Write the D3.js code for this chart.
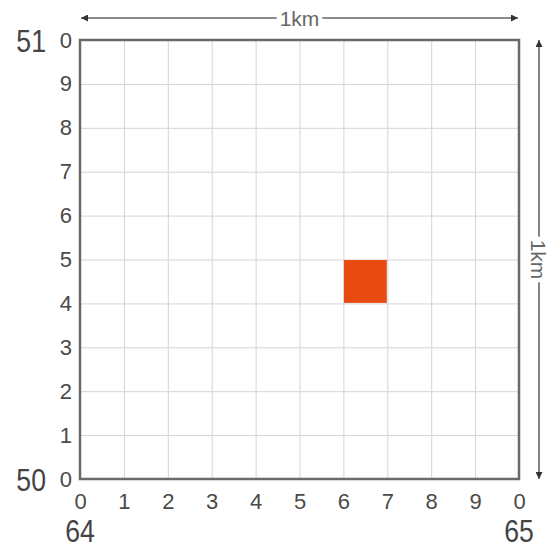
<!DOCTYPE html>
<html lang="en">
<head>
    <meta charset="UTF-8">
    <title>1km grid square</title>
    <script src="https://d3js.org/d3.v7.min.js"></script>
    <style>
        body {
            margin: 0;
            background: #fff;
            font-family: "Liberation Sans", Arial, sans-serif;
        }

        .grid line {
            stroke: #d4d4d4;
            stroke-width: 1px;
        }

        .grid .domain {
            display: none;
        }

        .ticks text {
            fill: #4a4a4a;
            font-size: 22px;
        }

        .ticks .domain, .ticks line {
            display: none;
        }
    </style>
</head>
<body>
<svg id="chart" width="549" height="552"></svg>

<script>
    // tenths of the square, left->right and bottom->top
    const tickValues = [0, 1, 2, 3, 4, 5, 6, 7, 8, 9, 10];
    const tickLabels = ["0", "1", "2", "3", "4", "5", "6", "7", "8", "9", "0"];
    // grid references of the corners
    const eastings = ["64", "65"];
    const northings = ["50", "51"];
    // highlighted square (col, row in tenths)
    const markCols = [6];
    const markRows = [4];
    const sideLabel = "1km";

    const svg = d3.select("#chart");
    const plotLeft = 80, plotRight = 519, plotTop = 40, plotBottom = 479;

    const x = d3.scaleLinear().domain([0, 10]).range([plotLeft, plotRight]);
    const y = d3.scaleLinear().domain([0, 10]).range([plotBottom, plotTop]);

    // grid lines
    svg.append("g").attr("class", "grid")
        .attr("transform", `translate(0,${plotBottom})`)
        .call(d3.axisBottom(x).tickValues(tickValues).tickSize(-(plotBottom - plotTop)).tickFormat(""));
    svg.append("g").attr("class", "grid")
        .attr("transform", `translate(${plotLeft},0)`)
        .call(d3.axisLeft(y).tickValues(tickValues).tickSize(-(plotRight - plotLeft)).tickFormat(""));

    // the orange square
    svg.selectAll("rect.mark")
        .data(markCols.map((c, i) => ({col: c, row: markRows[i]})))
        .enter().append("rect")
        .attr("class", "mark")
        .attr("x", d => x(d.col) + 0.5)
        .attr("y", d => y(d.row + 1) + 0.5)
        .attr("width", d => x(d.col + 1) - x(d.col) - 1)
        .attr("height", d => y(d.row) - y(d.row + 1) - 1)
        .attr("fill", "#e94a0f");

    // outer border
    svg.append("rect")
        .attr("x", plotLeft).attr("y", plotTop)
        .attr("width", plotRight - plotLeft).attr("height", plotBottom - plotTop)
        .attr("fill", "none")
        .attr("stroke", "#6a6a6a")
        .attr("stroke-width", 2.5);

    // tick labels
    const xAxis = svg.append("g").attr("class", "ticks")
        .attr("transform", `translate(0,${plotBottom + 11})`)
        .call(d3.axisBottom(x).tickValues(tickValues).tickSize(0)
            .tickFormat((d, i) => tickLabels[i]));
    xAxis.selectAll("text").attr("dy", "0.72em");

    svg.append("g").attr("class", "ticks")
        .attr("transform", `translate(${plotLeft - 5},0)`)
        .call(d3.axisLeft(y).tickValues(tickValues).tickSize(0)
            .tickFormat((d, i) => tickLabels[i]));

    // corner grid references (narrow type, like the original)
    function bigLabel(sel, anchor) {
        return sel.attr("transform", d => `translate(${d.px},${d.py}) scale(0.86,1)`)
            .attr("text-anchor", anchor)
            .attr("fill", "#444")
            .style("font-size", "31px")
            .text(d => d.label);
    }

    bigLabel(svg.selectAll("text.east")
        .data(eastings.map((label, i) => ({label, px: x(i * 10), py: 542})))
        .enter().append("text").attr("class", "east"), "middle");

    bigLabel(svg.selectAll("text.north")
        .data(northings.map((label, i) => ({label, px: 46, py: y(i * 10) + 12})))
        .enter().append("text").attr("class", "north"), "end");

    // 1km dimension arrows
    const defs = svg.append("defs");
    defs.append("marker")
        .attr("id", "head")
        .attr("viewBox", "0 0 10 10")
        .attr("refX", 10).attr("refY", 5)
        .attr("markerWidth", 10).attr("markerHeight", 7)
        .attr("markerUnits", "userSpaceOnUse")
        .attr("orient", "auto-start-reverse")
        .append("path")
        .attr("d", "M0,0L10,5L0,10Z")
        .attr("fill", "#333");

    function dimension(x1, y1, x2, y2, rotate) {
        const g = svg.append("g");
        g.append("line")
            .attr("x1", x1).attr("y1", y1).attr("x2", x2).attr("y2", y2)
            .attr("stroke", "#666").attr("stroke-width", 1.6)
            .attr("marker-start", "url(#head)")
            .attr("marker-end", "url(#head)");
        const cx = (x1 + x2) / 2, cy = (y1 + y2) / 2;
        const label = g.append("text")
            .attr("transform", `translate(${cx},${cy}) rotate(${rotate})`)
            .attr("text-anchor", "middle")
            .attr("dy", "0.36em")
            .attr("fill", "#666")
            .style("font-size", "21px")
            .text(sideLabel);
        const b = label.node().getBBox();
        g.insert("rect", "text")
            .attr("transform", `translate(${cx},${cy}) rotate(${rotate})`)
            .attr("x", b.x - 3).attr("y", -5)
            .attr("width", b.width + 6).attr("height", 10)
            .attr("fill", "#fff");
    }

    dimension(x(0) + 1, 18, x(10) - 1, 18, 0);
    dimension(539, y(10), 539, y(0), 90);
</script>
</body>
</html>
